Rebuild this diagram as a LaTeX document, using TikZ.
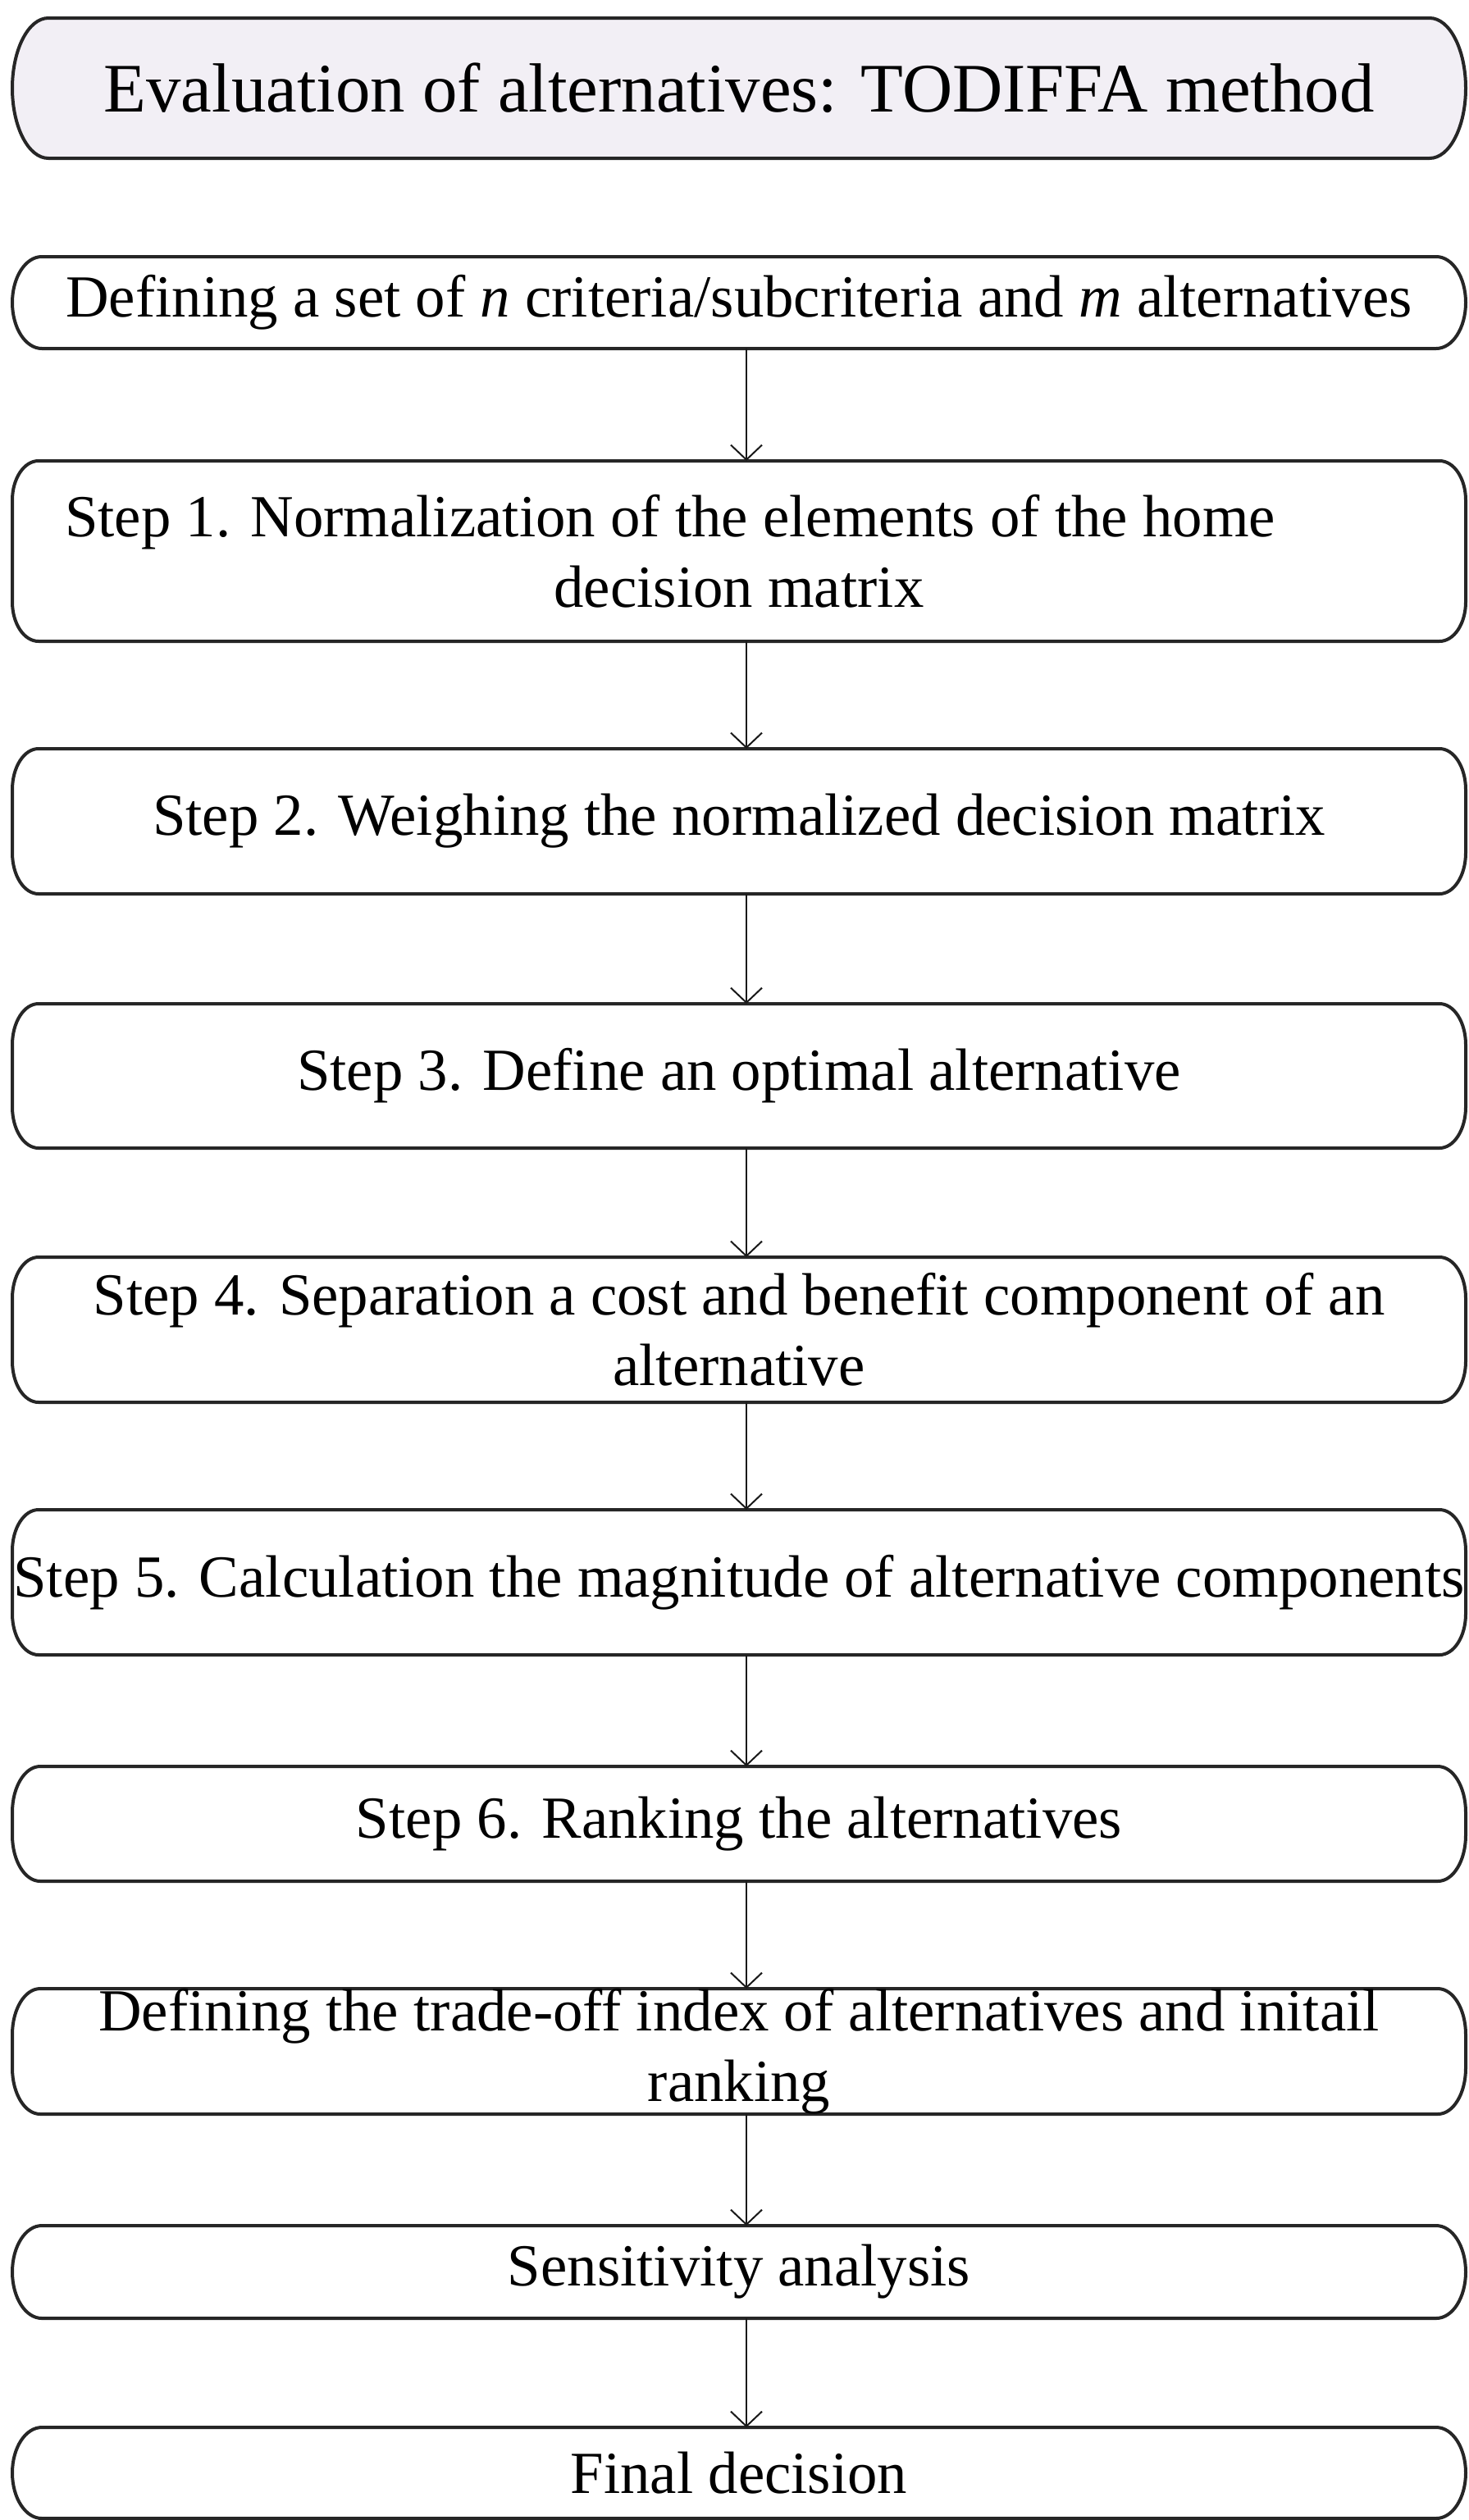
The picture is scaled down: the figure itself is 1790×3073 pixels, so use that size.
\documentclass[tikz,border=0pt]{standalone}
\usepackage{fontspec}
\setmainfont{Liberation Serif}
\usetikzlibrary{arrows.meta}
\pgfdeclarelayer{background}
\pgfsetlayers{background,main}
\definecolor{titlefill}{RGB}{242,239,245}
\tikzset{
  boxnode/.style={rectangle, draw=none, inner sep=0pt, outer sep=0pt,
    minimum width=443pt, align=center, font=\fontsize{18.2}{21.5}\selectfont},
  titlenode/.style={boxnode, font=\fontsize{21.2}{25}\selectfont},
  boxline/.style={line width=1pt, draw=black!85},
  arr/.style={line width=0.5pt, draw=black!90, -{Straight Barb[length=4.5pt,width=9.5pt]}},
}
\newcommand\pillborder[4]{%
  \path[boxline,#4] ([xshift=#2]#1.north west) -- ([xshift=-#2]#1.north east)
    arc[start angle=90,end angle=0,x radius=#2,y radius=#3]
    -- ([yshift=#3]#1.south east)
    arc[start angle=0,end angle=-90,x radius=#2,y radius=#3]
    -- ([xshift=#2]#1.south west)
    arc[start angle=270,end angle=180,x radius=#2,y radius=#3]
    -- ([yshift=-#3]#1.north west)
    arc[start angle=180,end angle=90,x radius=#2,y radius=#3]
    -- cycle;}
\begin{document}
\begin{tikzpicture}[x=0.25pt,y=-0.25pt]
\useasboundingbox (0,0) rectangle (1790,3073);

\node[titlenode, minimum height=42.75pt] (t) at (901,107.5) {Evaluation of alternatives: TODIFFA method};
\node[boxnode, minimum height=28pt] (b2) at (901,369) {Defining a set of \textit{n} criteria/subcriteria and \textit{m} alternatives};
\node[boxnode, minimum height=55pt] (s1) at (901,672) {Step 1. Normalization of the elements of the home\hspace*{42pt}\\decision matrix};
\node[boxnode, minimum height=44.25pt] (s2) at (901,1001.5) {Step 2. Weighing the normalized decision matrix};
\node[boxnode, minimum height=44pt] (s3) at (901,1312) {Step 3. Define an optimal alternative};
\node[boxnode, minimum height=44.25pt] (s4) at (901,1621.5) {Step 4. Separation a cost and benefit component of an\\alternative};
\node[boxnode, minimum height=44.25pt] (s5) at (901,1929.5) {Step 5. Calculation the magnitude of alternative components};
\node[boxnode, minimum height=35pt] (s6) at (901,2224) {Step 6. Ranking the alternatives};
\node[boxnode, minimum height=37.75pt] (tr) at (901,2501.5) {Defining the trade-off index of alternatives and initail\\ranking};
\node[boxnode, minimum height=28.25pt] (se) at (901,2770.5) {Sensitivity analysis};
\node[boxnode, minimum height=27.75pt] (fi) at (901,3015.5) {Final decision};

\begin{pgfonlayer}{background}
\pillborder{t}{11pt}{21.375pt}{fill=titlefill}
\pillborder{b2}{9pt}{14pt}{}
\pillborder{s1}{8pt}{12pt}{}
\pillborder{s2}{8pt}{12.5pt}{}
\pillborder{s3}{8pt}{12.5pt}{}
\pillborder{s4}{8pt}{12.5pt}{}
\pillborder{s5}{8pt}{12.5pt}{}
\pillborder{s6}{8.5pt}{14pt}{}
\pillborder{tr}{8.5pt}{14pt}{}
\pillborder{se}{9pt}{14.125pt}{}
\pillborder{fi}{9pt}{13.875pt}{}
\end{pgfonlayer}

\foreach \a/\b in {b2/s1, s1/s2, s2/s3, s3/s4, s4/s5, s5/s6, s6/tr, tr/se, se/fi}
  \draw[arr] ([xshift=2.25pt]\a.south) -- ([xshift=2.25pt]\b.north);
\end{tikzpicture}
\end{document}
